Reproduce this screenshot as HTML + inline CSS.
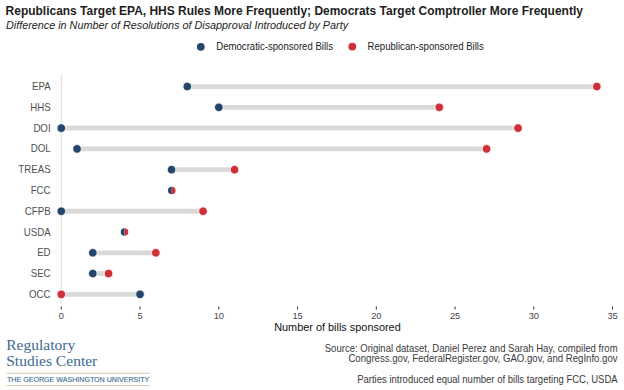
<!DOCTYPE html>
<html><head><meta charset="utf-8">
<style>
html,body{margin:0;padding:0;background:#fff;}
body{width:624px;height:390px;position:relative;overflow:hidden;}
svg{position:absolute;left:0;top:0;}
text{font-family:"Liberation Sans",sans-serif;}
.title{font-size:11.97px;font-weight:bold;fill:#1e1e1e;}
.sub{font-size:10.8px;font-style:italic;fill:#222;}
.leg{font-size:9.6px;fill:#222;}
.yl{font-size:9.7px;fill:#505050;}
.xl{font-size:9.3px;fill:#484848;}
.xt{font-size:10.9px;fill:#111;}
.src{font-size:9.55px;fill:#3a3a3a;}
.logo{font-family:"Liberation Serif",serif;font-size:15.5px;fill:#3f6b96;stroke:#3f6b96;stroke-width:0.05px;letter-spacing:0.02px;}
.gw{font-size:7.1px;fill:#3d6a94;stroke:#3d6a94;stroke-width:0.12px;letter-spacing:0px;}
</style></head><body>
<svg width="624" height="390" viewBox="0 0 624 390">
<text x="5.6" y="14.6" class="title">Republicans Target EPA, HHS Rules More Frequently; Democrats Target Comptroller More Frequently</text>
<text x="6" y="28.8" class="sub">Difference in Number of Resolutions of Disapproval Introduced by Party</text>
<circle cx="200.8" cy="46.8" r="3.9" fill="#23466a"/>
<circle cx="352.3" cy="46.6" r="3.9" fill="#cf2f3b"/>
<text transform="translate(216.3,50.4) scale(1,1.1)" class="leg">Democratic-sponsored Bills</text>
<text transform="translate(367.6,50.4) scale(1,1.1)" class="leg">Republican-sponsored Bills</text>
<line x1="61.3" y1="74" x2="61.3" y2="303.8" stroke="#dcdcdc" stroke-width="1"/>
<text transform="translate(50.6,90.15) scale(1,1.13)" text-anchor="end" class="yl">EPA</text>
<line x1="187.30" y1="86.55" x2="596.80" y2="86.55" stroke="#dbd8d9" stroke-width="4.8"/>
<circle cx="187.30" cy="86.55" r="4.3" fill="#23466a" stroke="#fff" stroke-width="0.8"/>
<circle cx="596.80" cy="86.55" r="4.3" fill="#cf2f3b" stroke="#fff" stroke-width="0.8"/>
<text transform="translate(50.6,110.93) scale(1,1.13)" text-anchor="end" class="yl">HHS</text>
<line x1="218.80" y1="107.33" x2="439.30" y2="107.33" stroke="#dbd8d9" stroke-width="4.8"/>
<circle cx="218.80" cy="107.33" r="4.3" fill="#23466a" stroke="#fff" stroke-width="0.8"/>
<circle cx="439.30" cy="107.33" r="4.3" fill="#cf2f3b" stroke="#fff" stroke-width="0.8"/>
<text transform="translate(50.6,131.71) scale(1,1.13)" text-anchor="end" class="yl">DOI</text>
<line x1="61.30" y1="128.11" x2="518.05" y2="128.11" stroke="#dbd8d9" stroke-width="4.8"/>
<circle cx="61.30" cy="128.11" r="4.3" fill="#23466a" stroke="#fff" stroke-width="0.8"/>
<circle cx="518.05" cy="128.11" r="4.3" fill="#cf2f3b" stroke="#fff" stroke-width="0.8"/>
<text transform="translate(50.6,152.49) scale(1,1.13)" text-anchor="end" class="yl">DOL</text>
<line x1="77.05" y1="148.89" x2="486.55" y2="148.89" stroke="#dbd8d9" stroke-width="4.8"/>
<circle cx="77.05" cy="148.89" r="4.3" fill="#23466a" stroke="#fff" stroke-width="0.8"/>
<circle cx="486.55" cy="148.89" r="4.3" fill="#cf2f3b" stroke="#fff" stroke-width="0.8"/>
<text transform="translate(50.6,173.27) scale(1,1.13)" text-anchor="end" class="yl">TREAS</text>
<line x1="171.55" y1="169.67" x2="234.55" y2="169.67" stroke="#dbd8d9" stroke-width="4.8"/>
<circle cx="171.55" cy="169.67" r="4.3" fill="#23466a" stroke="#fff" stroke-width="0.8"/>
<circle cx="234.55" cy="169.67" r="4.3" fill="#cf2f3b" stroke="#fff" stroke-width="0.8"/>
<text transform="translate(50.6,194.05) scale(1,1.13)" text-anchor="end" class="yl">FCC</text>
<path d="M171.75,186.70 A3.75,3.75 0 0 0 171.75,194.20 Z" fill="#23466a"/>
<path d="M171.75,186.70 A3.75,3.75 0 0 1 171.75,194.20 Z" fill="#cf2f3b"/>
<text transform="translate(50.6,214.83) scale(1,1.13)" text-anchor="end" class="yl">CFPB</text>
<line x1="61.30" y1="211.23" x2="203.05" y2="211.23" stroke="#dbd8d9" stroke-width="4.8"/>
<circle cx="61.30" cy="211.23" r="4.3" fill="#23466a" stroke="#fff" stroke-width="0.8"/>
<circle cx="203.05" cy="211.23" r="4.3" fill="#cf2f3b" stroke="#fff" stroke-width="0.8"/>
<text transform="translate(50.6,235.61) scale(1,1.13)" text-anchor="end" class="yl">USDA</text>
<path d="M124.50,228.26 A3.75,3.75 0 0 0 124.50,235.76 Z" fill="#23466a"/>
<path d="M124.50,228.26 A3.75,3.75 0 0 1 124.50,235.76 Z" fill="#cf2f3b"/>
<text transform="translate(50.6,256.39) scale(1,1.13)" text-anchor="end" class="yl">ED</text>
<line x1="92.80" y1="252.79" x2="155.80" y2="252.79" stroke="#dbd8d9" stroke-width="4.8"/>
<circle cx="92.80" cy="252.79" r="4.3" fill="#23466a" stroke="#fff" stroke-width="0.8"/>
<circle cx="155.80" cy="252.79" r="4.3" fill="#cf2f3b" stroke="#fff" stroke-width="0.8"/>
<text transform="translate(50.6,277.17) scale(1,1.13)" text-anchor="end" class="yl">SEC</text>
<line x1="92.80" y1="273.57" x2="108.55" y2="273.57" stroke="#dbd8d9" stroke-width="4.8"/>
<circle cx="92.80" cy="273.57" r="4.3" fill="#23466a" stroke="#fff" stroke-width="0.8"/>
<circle cx="108.55" cy="273.57" r="4.3" fill="#cf2f3b" stroke="#fff" stroke-width="0.8"/>
<text transform="translate(50.6,297.95) scale(1,1.13)" text-anchor="end" class="yl">OCC</text>
<line x1="140.05" y1="294.35" x2="61.30" y2="294.35" stroke="#dbd8d9" stroke-width="4.8"/>
<circle cx="140.05" cy="294.35" r="4.3" fill="#23466a" stroke="#fff" stroke-width="0.8"/>
<circle cx="61.30" cy="294.35" r="4.3" fill="#cf2f3b" stroke="#fff" stroke-width="0.8"/>
<line x1="61.30" y1="306.5" x2="61.30" y2="309.5" stroke="#333" stroke-width="1"/>
<text transform="translate(61.30,319.0) scale(1,1.04)" text-anchor="middle" class="xl">0</text>
<line x1="140.05" y1="306.5" x2="140.05" y2="309.5" stroke="#333" stroke-width="1"/>
<text transform="translate(140.05,319.0) scale(1,1.04)" text-anchor="middle" class="xl">5</text>
<line x1="218.80" y1="306.5" x2="218.80" y2="309.5" stroke="#333" stroke-width="1"/>
<text transform="translate(218.80,319.0) scale(1,1.04)" text-anchor="middle" class="xl">10</text>
<line x1="297.55" y1="306.5" x2="297.55" y2="309.5" stroke="#333" stroke-width="1"/>
<text transform="translate(297.55,319.0) scale(1,1.04)" text-anchor="middle" class="xl">15</text>
<line x1="376.30" y1="306.5" x2="376.30" y2="309.5" stroke="#333" stroke-width="1"/>
<text transform="translate(376.30,319.0) scale(1,1.04)" text-anchor="middle" class="xl">20</text>
<line x1="455.05" y1="306.5" x2="455.05" y2="309.5" stroke="#333" stroke-width="1"/>
<text transform="translate(455.05,319.0) scale(1,1.04)" text-anchor="middle" class="xl">25</text>
<line x1="533.80" y1="306.5" x2="533.80" y2="309.5" stroke="#333" stroke-width="1"/>
<text transform="translate(533.80,319.0) scale(1,1.04)" text-anchor="middle" class="xl">30</text>
<line x1="612.55" y1="306.5" x2="612.55" y2="309.5" stroke="#333" stroke-width="1"/>
<text transform="translate(612.55,319.0) scale(1,1.04)" text-anchor="middle" class="xl">35</text>
<text x="274.2" y="331.3" class="xt">Number of bills sponsored</text>
<text transform="translate(617.6,351.5) scale(1,1.08)" text-anchor="end" class="src">Source: Original dataset, Daniel Perez and Sarah Hay, compiled from</text>
<text transform="translate(617.6,362.1) scale(1,1.08)" text-anchor="end" class="src" style="font-size:9.62px">Congress.gov, FederalRegister.gov, GAO.gov, and RegInfo.gov</text>
<text transform="translate(617.6,382.6) scale(1,1.08)" text-anchor="end" class="src" style="font-size:9.52px">Parties introduced equal number of bills targeting FCC, USDA</text>
<text x="6.2" y="350.0" class="logo">Regulatory</text>
<text x="6.2" y="365.9" class="logo">Studies Center</text>
<rect x="6.5" y="372.8" width="143" height="1" fill="#dccbad"/>
<text x="7" y="382.3" class="gw">THE GEORGE WASHINGTON UNIVERSITY</text>
<rect x="6.5" y="385" width="143" height="1" fill="#dccbad"/>
</svg>
</body></html>
